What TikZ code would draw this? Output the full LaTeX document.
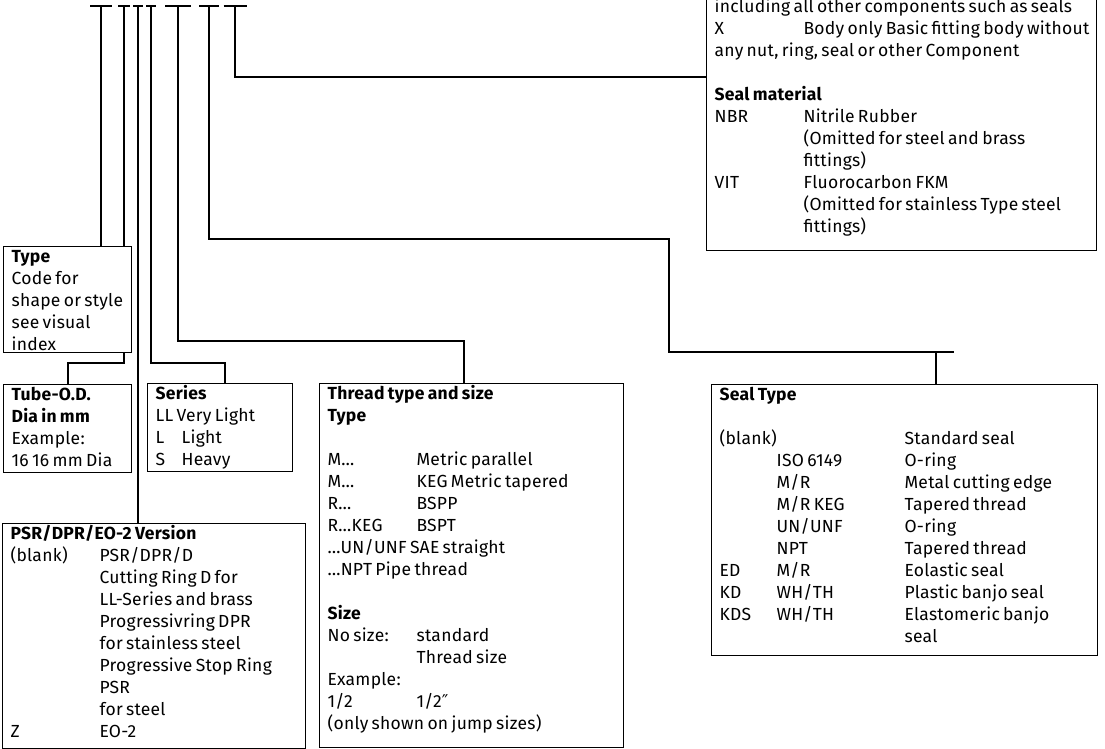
\documentclass[tikz,border=0pt]{standalone}
\usepackage{fontspec}
\setmainfont{Fira Sans}[LetterSpace=1.5, WordSpace=1.35]
\newfontfamily\symfont{DejaVu Sans}
\usetikzlibrary{calc}

\newcommand{\rows}[1]{{\fontsize{17.5}{22}\selectfont\begin{tabular}[t]{@{}l@{}}#1\end{tabular}}}
\newcommand{\hcol}[2]{\makebox[#1pt][l]{#2}}

\begin{document}
\begin{tikzpicture}[x=1pt,y=-1pt,
  infobox/.style={draw, fill=white, line width=1.2pt, anchor=north west, inner xsep=8pt, inner ysep=0pt, text height=15.4pt, align=left},
  conn/.style={line width=2pt}]
\useasboundingbox (0,0) rectangle (1105,749);
% ticks of the order code
\coordinate (t1) at (101,6.5);
\coordinate (t2) at (124,6.5);
\coordinate (t3) at (138,6.5);
\coordinate (t4) at (151,6.5);
\coordinate (t5) at (178,6.5);
\coordinate (t6) at (209,6.5);
\coordinate (t7) at (235,6.5);
\foreach \p/\w in {t1/11, t2/6, t3/5, t4/5, t5/13, t6/10, t7/11.5}
  \draw[conn] ($(\p)+(-\w,0)$) -- ($(\p)+(\w,0)$);
% boxes
\node[infobox, text width=374pt, text depth=237.6pt] (tr) at (706,-3) {\rows{including all other components such as seals\\
\hcol{89}{X}Body only Basic fitting body without\\
any nut, ring, seal or other Component\\
\\
\textbf{Seal material}\\
\hcol{89}{NBR}Nitrile Rubber\\
\hcol{89}{}(Omitted for steel and brass\\
\hcol{89}{}fittings)\\
\hcol{89}{VIT}Fluorocarbon FKM\\
\hcol{89}{}(Omitted for stainless Type steel\\
\hcol{89}{}fittings)}};
\node[infobox, text width=112pt, text depth=90.6pt] (type) at (3,246) {\rows{\textbf{Type}\\ Code for\\ shape or style\\ see visual\\ index}};
\node[infobox, text width=112pt, text depth=72.6pt] (tube) at (3,384) {\rows{\textbf{Tube-O.D.}\\ \textbf{Dia in mm}\\ Example:\\ 16 16 mm Dia}};
\node[infobox, text width=129pt, text depth=72.6pt] (series) at (147,383) {\rows{\textbf{Series}\\ LL Very Light\\ \hcol{26}{L}Light\\ \hcol{26}{S}Heavy}};
\node[infobox, text width=288pt, text depth=348.6pt] (thread) at (319,383) {\rows{\textbf{Thread type and size}\\
\textbf{Type}\\
\\
\hcol{89}{M…}Metric parallel\\
\hcol{89}{M…}KEG Metric tapered\\
\hcol{89}{R…}BSPP\\
\hcol{89}{R…KEG}BSPT\\
…UN/UNF SAE straight\\
…NPT Pipe thread\\
\\
\textbf{Size}\\
\hcol{89}{No size:}standard\\
\hcol{89}{}Thread size\\
Example:\\
\hcol{89}{1/2}1/2{\symfont ″}\\
(only shown on jump sizes)}};
\node[infobox, text width=287pt, text depth=209.6pt] (psr) at (2,523) {\rows{\textbf{PSR/DPR/EO-2 Version}\\
\hcol{89}{(blank)}PSR/DPR/D\\
\hcol{89}{}Cutting Ring D for\\
\hcol{89}{}LL-Series and brass\\
\hcol{89}{}Progressivring DPR\\
\hcol{89}{}for stainless steel\\
\hcol{89}{}Progressive Stop Ring\\
\hcol{89}{}PSR\\
\hcol{89}{}for steel\\
\hcol{89}{Z}EO-2}};
\node[infobox, text width=370pt, text depth=255.6pt] (seal) at (711,384) {\rows{\textbf{Seal Type}\\
\\
\hcol{185}{(blank)}Standard seal\\
\hcol{57}{}\hcol{128}{ISO 6149}O-ring\\
\hcol{57}{}\hcol{128}{M/R}Metal cutting edge\\
\hcol{57}{}\hcol{128}{M/R KEG}Tapered thread\\
\hcol{57}{}\hcol{128}{UN/UNF}O-ring\\
\hcol{57}{}\hcol{128}{NPT}Tapered thread\\
\hcol{57}{ED}\hcol{128}{M/R}Eolastic seal\\
\hcol{57}{KD}\hcol{128}{WH/TH}Plastic banjo seal\\
\hcol{57}{KDS}\hcol{128}{WH/TH}Elastomeric banjo\\
\hcol{185}{}seal}};
% connectors
\coordinate (k2) at (124,363);
\coordinate (k4) at (151,363);
\coordinate (k5) at (178,341);
\coordinate (k6) at (209,239);
\coordinate (j6) at (669,352);
\coordinate (e6) at (954,352);
\coordinate (k7) at (235,77);
\draw[conn] (t1) -- (t1 |- type.north);
\draw[conn] (t2) -- (t2 |- type.north);
\draw[conn] (t2 |- type.south) -- (k2) -| (tube.north);
\draw[conn] (t3) -- (t3 |- psr.north);
\draw[conn] (t4) -- (k4) -| ([xshift=4.5pt]series.north);
\draw[conn] (t5) -- (k5) -| ([xshift=-8pt]thread.north);
\draw[conn] (t6) -- (k6) -| (j6) -- (e6);
\draw[conn] ([xshift=31pt]seal.north) -- ([xshift=31pt]seal.north |- e6);
\draw[conn] (t7) -- (k7) -- (k7 -| tr.west);
\end{tikzpicture}
\end{document}
